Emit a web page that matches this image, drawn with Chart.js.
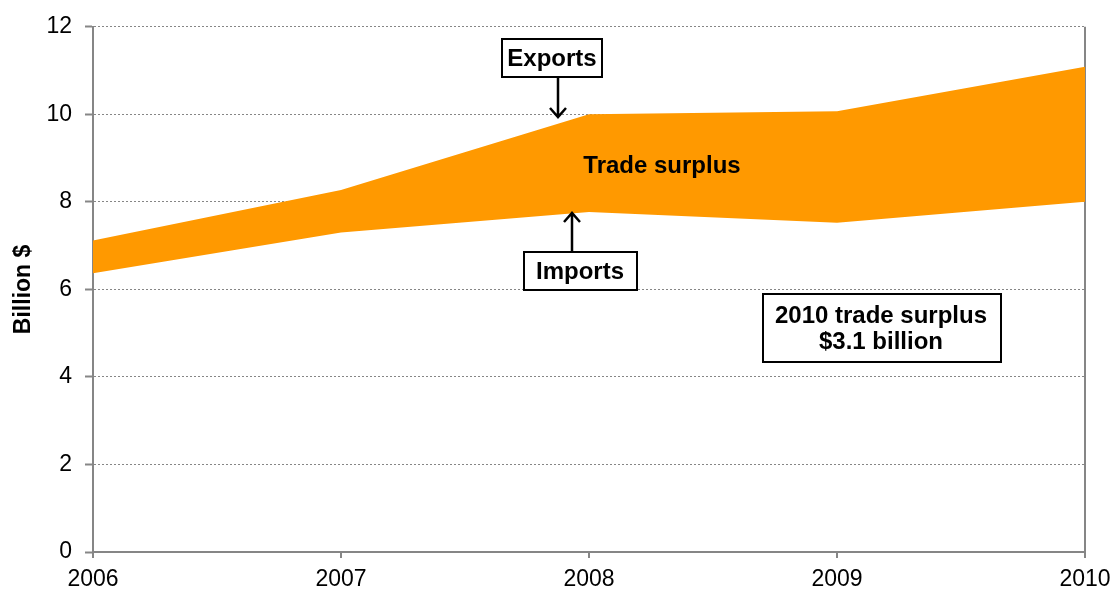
<!DOCTYPE html>
<html>
<head>
<meta charset="utf-8">
<script src="https://cdn.jsdelivr.net/npm/chart.js"></script>
<style>
  html, body { margin: 0; padding: 0; background: #fff; }
  #wrap { width: 1114px; height: 589px; }
</style>
</head>
<body>
<div id="wrap"><canvas id="tradeChart" width="1114" height="589"></canvas></div>
<script>
const years = ['2006', '2007', '2008', '2009', '2010'];
const exportsBn = [7.12, 8.27, 10.0, 10.07, 11.09];
const importsBn = [6.37, 7.30, 7.77, 7.52, 8.0];
const yTicks = [0, 2, 4, 6, 8, 10, 12];

const FONT = '"Liberation Sans", Arial, sans-serif';
const GREY = '#868686';

// boxes, arrows and labels on top of the chart
const notes = {
    id: 'notes',
    afterDraw(chart) {
        const ctx = chart.ctx;
        ctx.save();
        ctx.font = 'bold 24px ' + FONT;
        ctx.textAlign = 'center';
        ctx.textBaseline = 'middle';

        function box(x1, y1, x2, y2) {
            ctx.fillStyle = '#fff';
            ctx.fillRect(x1, y1, x2 - x1, y2 - y1);
            ctx.lineWidth = 2;
            ctx.strokeStyle = '#000';
            ctx.strokeRect(x1, y1, x2 - x1, y2 - y1);
        }
        function arrow(x, y1, y2) {
            const dir = y2 > y1 ? 1 : -1;
            ctx.strokeStyle = '#000';
            ctx.lineWidth = 2.5;
            ctx.beginPath();
            ctx.moveTo(x, y1);
            ctx.lineTo(x, y2);
            ctx.moveTo(x - 8, y2 - dir * 9);
            ctx.lineTo(x, y2);
            ctx.lineTo(x + 8, y2 - dir * 9);
            ctx.stroke();
        }

        box(502, 39, 602, 77);
        arrow(558, 77, 117);
        ctx.fillStyle = '#000';
        ctx.fillText('Exports', 552, 59);

        box(524, 252, 637, 290);
        arrow(572, 252, 213);
        ctx.fillStyle = '#000';
        ctx.fillText('Imports', 580, 272);

        ctx.fillText('Trade surplus', 662, 166);

        box(763, 294, 1001, 362);
        ctx.fillStyle = '#000';
        ctx.fillText('2010 trade surplus', 881, 316);
        ctx.fillText('$3.1 billion', 881, 342);
        ctx.restore();
    }
};

new Chart(document.getElementById('tradeChart'), {
    type: 'line',
    data: {
        labels: years,
        datasets: [
            {
                label: 'Imports',
                data: importsBn,
                borderWidth: 0,
                pointRadius: 0,
                fill: false
            },
            {
                label: 'Exports',
                data: exportsBn,
                borderWidth: 0,
                pointRadius: 0,
                backgroundColor: '#ff9900',
                fill: '-1'
            }
        ]
    },
    options: {
        responsive: false,
        animation: false,
        layout: { padding: { top: 24, right: 29, left: 0, bottom: 0 } },
        plugins: {
            legend: { display: false },
            tooltip: { enabled: false }
        },
        scales: {
            x: {
                offset: false,
                z: 1,
                grid: {
                    color: c => c.index === years.length - 1 ? GREY : 'rgba(0,0,0,0)',
                    tickColor: GREY,
                    lineWidth: 2,
                    tickLength: 6
                },
                border: { color: GREY, width: 2 },
                ticks: {
                    color: '#000',
                    font: { family: FONT, size: 23 },
                    padding: 8,
                    maxRotation: 0,
                    autoSkip: false
                },
                afterFit(scale) {
                    scale.height = 37;
                    scale.paddingLeft = 0;
                    scale.paddingRight = 29;
                }
            },
            y: {
                min: 0,
                max: 12,
                afterBuildTicks(scale) { scale.ticks = yTicks.map(v => ({ value: v })); },
                grid: {
                    color: GREY,
                    lineWidth: 1,
                    tickLength: 8,
                    tickWidth: 2
                },
                border: { color: GREY, width: 2, dash: [2, 2] },
                ticks: {
                    color: '#000',
                    font: { family: FONT, size: 23 },
                    padding: 13
                },
                title: {
                    display: true,
                    text: 'Billion $',
                    color: '#000',
                    font: { family: FONT, size: 23, weight: 'bold' },
                    padding: { top: 10, bottom: 0 }
                },
                afterFit(scale) { scale.width = 93; }
            }
        }
    },
    plugins: [notes]
});
</script>
</body>
</html>
